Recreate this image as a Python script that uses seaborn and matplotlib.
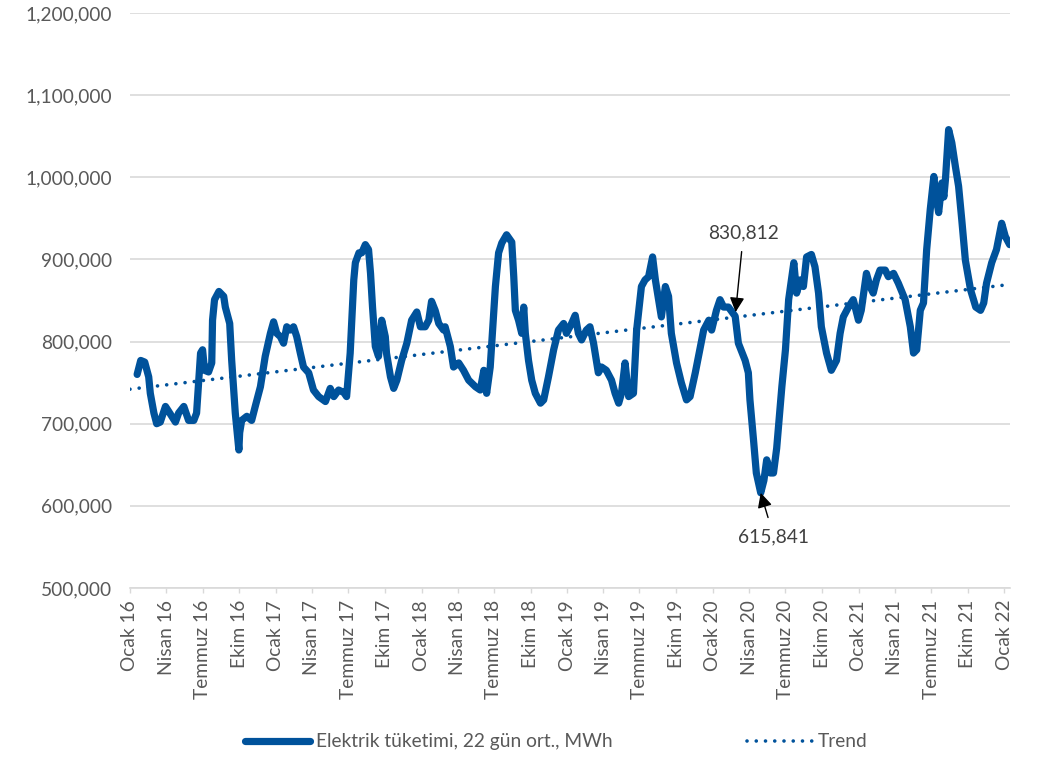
import numpy as np
import pandas as pd
import matplotlib
matplotlib.use("Agg")
import matplotlib.pyplot as plt
from matplotlib.lines import Line2D
import seaborn as sns

# 22-day rolling average of electricity consumption (MWh)
dates = [
    "2016-01-19", "2016-01-28", "2016-02-07", "2016-02-17", "2016-02-21", "2016-03-01",
    "2016-03-08", "2016-03-17", "2016-03-30", "2016-04-07", "2016-04-24", "2016-05-02",
    "2016-05-15", "2016-05-27", "2016-06-09", "2016-06-16", "2016-06-26", "2016-07-01",
    "2016-07-06", "2016-07-16", "2016-07-24", "2016-07-26", "2016-07-31", "2016-08-11",
    "2016-08-23", "2016-08-27", "2016-09-07", "2016-09-12", "2016-09-21", "2016-09-30",
    "2016-10-02", "2016-10-07", "2016-10-20", "2016-11-01", "2016-11-10", "2016-11-23",
    "2016-12-05", "2016-12-18", "2016-12-26", "2017-01-03", "2017-01-12", "2017-01-20",
    "2017-01-28", "2017-02-06", "2017-02-14", "2017-02-22", "2017-03-03", "2017-03-11",
    "2017-03-24", "2017-04-05", "2017-04-18", "2017-05-05", "2017-05-17", "2017-05-26",
    "2017-06-07", "2017-06-20", "2017-06-27", "2017-07-06", "2017-07-15", "2017-07-19",
    "2017-07-28", "2017-08-04", "2017-08-13", "2017-08-21", "2017-08-26", "2017-08-31",
    "2017-09-07", "2017-09-15", "2017-09-23", "2017-10-02", "2017-10-05", "2017-10-15",
    "2017-10-23", "2017-10-31", "2017-11-12", "2017-11-25", "2017-12-07", "2017-12-20",
    "2017-12-29", "2018-01-10", "2018-01-19", "2018-01-26", "2018-02-04", "2018-02-13",
    "2018-02-25", "2018-03-01", "2018-03-14", "2018-03-22", "2018-04-04", "2018-04-16",
    "2018-04-29", "2018-05-16", "2018-05-28", "2018-06-06", "2018-06-13", "2018-06-22",
    "2018-07-05", "2018-07-13", "2018-07-21", "2018-08-02", "2018-08-15", "2018-08-20",
    "2018-08-24", "2018-09-01", "2018-09-09", "2018-09-14", "2018-09-18", "2018-09-26",
    "2018-10-04", "2018-10-13", "2018-10-26", "2018-11-03", "2018-11-15", "2018-11-28",
    "2018-12-10", "2018-12-23", "2018-12-30", "2019-01-12", "2019-01-21", "2019-01-29",
    "2019-02-06", "2019-02-18", "2019-02-27", "2019-03-08", "2019-03-15", "2019-03-20",
    "2019-03-28", "2019-04-09", "2019-04-22", "2019-05-01", "2019-05-10", "2019-05-17",
    "2019-05-26", "2019-06-04", "2019-06-16", "2019-06-24", "2019-07-06", "2019-07-15",
    "2019-07-24", "2019-07-29", "2019-08-03", "2019-08-10", "2019-08-18", "2019-08-25",
    "2019-09-04", "2019-09-12", "2019-09-19", "2019-10-02", "2019-10-14", "2019-10-27",
    "2019-11-05", "2019-11-18", "2019-12-01", "2019-12-09", "2019-12-22", "2019-12-29",
    "2020-01-10", "2020-01-19", "2020-01-28", "2020-02-09", "2020-02-26", "2020-03-05",
    "2020-03-22", "2020-03-30", "2020-04-03", "2020-04-12", "2020-04-19", "2020-04-30",
    "2020-05-08", "2020-05-15", "2020-05-24", "2020-06-01", "2020-06-09", "2020-06-22",
    "2020-07-01", "2020-07-09", "2020-07-22", "2020-07-29", "2020-08-07", "2020-08-15",
    "2020-08-23", "2020-09-04", "2020-09-13", "2020-09-22", "2020-09-29", "2020-10-12",
    "2020-10-24", "2020-11-06", "2020-11-15", "2020-11-23", "2020-12-06", "2020-12-18",
    "2020-12-31", "2021-01-07", "2021-01-20", "2021-01-29", "2021-02-06", "2021-02-14",
    "2021-02-23", "2021-03-08", "2021-03-16", "2021-03-29", "2021-04-10", "2021-04-27",
    "2021-05-10", "2021-05-18", "2021-05-26", "2021-06-04", "2021-06-12", "2021-06-20",
    "2021-06-29", "2021-07-08", "2021-07-12", "2021-07-20", "2021-07-28", "2021-08-02",
    "2021-08-06", "2021-08-14", "2021-08-22", "2021-08-31", "2021-09-08", "2021-09-16",
    "2021-09-25", "2021-10-08", "2021-10-21", "2021-11-02", "2021-11-10", "2021-11-17",
    "2021-11-30", "2021-12-12", "2021-12-25", "2022-01-03", "2022-01-14",
]
consumption = [
    760000, 777000, 775000, 757000, 737000, 713000,
    700000, 702000, 721000, 715000, 702000, 713000,
    721000, 704000, 704000, 713000, 786000, 790000,
    765000, 763000, 774000, 826000, 851000, 861000,
    855000, 842000, 822000, 777000, 713000, 668000,
    689000, 704000, 709000, 704000, 721000, 745000,
    782000, 810000, 824000, 810000, 806000, 798000,
    818000, 814000, 818000, 806000, 786000, 769000,
    762000, 741000, 733000, 727000, 743000, 733000,
    741000, 738000, 733000, 786000, 875000, 896000,
    908000, 908000, 918000, 912000, 883000, 842000,
    794000, 782000, 826000, 806000, 786000, 757000,
    743000, 753000, 777000, 798000, 826000, 836000,
    818000, 818000, 826000, 849000, 838000, 822000,
    814000, 818000, 794000, 769000, 774000, 765000,
    753000, 745000, 741000, 765000, 737000, 769000,
    867000, 908000, 920000, 930000, 921000, 879000,
    838000, 826000, 810000, 842000, 810000, 777000,
    753000, 737000, 725000, 729000, 757000, 790000,
    814000, 822000, 810000, 822000, 832000, 810000,
    802000, 814000, 818000, 798000, 777000, 762000,
    769000, 765000, 753000, 737000, 725000, 737000,
    774000, 733000, 737000, 814000, 867000, 875000,
    879000, 891000, 903000, 875000, 851000, 830000,
    867000, 855000, 810000, 774000, 750000, 729000,
    733000, 762000, 794000, 814000, 826000, 814000,
    838000, 851000, 842000, 842000, 830812, 798000,
    777000, 762000, 729000, 680000, 640000, 615841,
    631000, 656000, 640000, 640000, 670000, 745000,
    790000, 851000, 896000, 859000, 875000, 867000,
    903000, 906000, 891000, 859000, 818000, 786000,
    765000, 777000, 810000, 830000, 842000, 851000,
    826000, 838000, 883000, 867000, 859000, 875000,
    887000, 887000, 879000, 883000, 871000, 851000,
    818000, 786000, 790000, 838000, 847000, 912000,
    961000, 1001000, 981000, 957000, 993000, 976000,
    997000, 1058000, 1042000, 1013000, 989000, 948000,
    899000, 863000, 842000, 838000, 847000, 871000,
    896000, 912000, 944000, 928000, 918000,
]

# Linear trend line end points
trend_dates = ["2016-01-01", "2022-01-14"]
trend_values = [742000, 869500]

# Quarterly axis ticks
tick_dates = pd.date_range("2016-01-01", "2022-01-01", freq="QS")
tick_labels = [
    "Ocak 16", "Nisan 16", "Temmuz 16", "Ekim 16",
    "Ocak 17", "Nisan 17", "Temmuz 17", "Ekim 17",
    "Ocak 18", "Nisan 18", "Temmuz 18", "Ekim 18",
    "Ocak 19", "Nisan 19", "Temmuz 19", "Ekim 19",
    "Ocak 20", "Nisan 20", "Temmuz 20", "Ekim 20",
    "Ocak 21", "Nisan 21", "Temmuz 21", "Ekim 21",
    "Ocak 22",
]
y_ticks = [500000, 600000, 700000, 800000, 900000, 1000000, 1100000, 1200000]

series_label = "Elektrik tüketimi, 22 gün ort., MWh"
trend_label = "Trend"

sns.set_theme(style="white")
plt.rcParams["font.family"] = ["Lato", "DejaVu Sans"]

BLUE = "#00529b"
GRID = "#d9d9d9"
TEXT = "#595959"
FS = 13.8
LINE_W = 5.2
DOT_W = 2.6

df = pd.DataFrame({"Tarih": pd.to_datetime(dates), "MWh": consumption})
trend_df = pd.DataFrame({"Tarih": pd.to_datetime(trend_dates), "MWh": trend_values})

fig = plt.figure(figsize=(10.38, 7.59), dpi=100)
ax = fig.add_axes([0.1252, 0.2253, 0.8475, 0.7576])

dot_style = (0, (0.01, 2.55))
sns.lineplot(data=trend_df, x="Tarih", y="MWh", ax=ax, color=BLUE, lw=DOT_W,
             linestyle=dot_style, dash_capstyle="round", zorder=2)
sns.lineplot(data=df, x="Tarih", y="MWh", ax=ax, color=BLUE, lw=LINE_W,
             solid_capstyle="round", solid_joinstyle="round", zorder=3)

ax.set_xlim(pd.Timestamp("2016-01-01"), pd.Timestamp("2022-01-14"))
ax.set_ylim(500000, 1200000)
ax.set_xticks(tick_dates)
ax.set_xticklabels(tick_labels, rotation=90, fontsize=FS, color=TEXT)
ax.set_yticks(y_ticks)
ax.set_yticklabels([f"{v:,}" for v in y_ticks], fontsize=FS, color=TEXT)
ax.set_xlabel("")
ax.set_ylabel("")

ax.grid(axis="y", color=GRID, lw=1.2)
ax.grid(axis="x", visible=False)
ax.set_axisbelow(True)
for side in ("left", "top", "right"):
    ax.spines[side].set_visible(False)
ax.spines["bottom"].set_color(GRID)
ax.spines["bottom"].set_linewidth(1.2)
ax.tick_params(axis="x", length=3.6, width=1, color=GRID, pad=5, bottom=True)
ax.tick_params(axis="y", length=0, pad=13)

# Annotated values
i_pre = dates.index("2020-02-26")
i_min = int(np.argmin(consumption))
arrow = dict(arrowstyle="-|>", color="black", lw=1.0, mutation_scale=22)
ax.annotate(f"{consumption[i_pre]:,}", xy=(df["Tarih"][i_pre], consumption[i_pre]),
            xytext=(6, 60), textcoords="offset points", ha="center", va="center",
            fontsize=FS, color="#404040",
            arrowprops={**arrow, "shrinkA": 5, "shrinkB": 3}, zorder=5)
ax.annotate(f"{consumption[i_min]:,}", xy=(df["Tarih"][i_min], consumption[i_min]),
            xytext=(9.5, -32), textcoords="offset points", ha="center", va="center",
            fontsize=FS, color="#404040",
            arrowprops={**arrow, "shrinkA": 6, "shrinkB": 0}, zorder=5)

handles = [
    Line2D([], [], color=BLUE, lw=LINE_W, solid_capstyle="round"),
    Line2D([], [], color=BLUE, lw=DOT_W, linestyle=dot_style, dash_capstyle="round"),
]
leg = fig.legend(handles, [series_label, trend_label], loc="center",
                 bbox_to_anchor=(0.536, 0.0224), ncol=2, frameon=False,
                 fontsize=FS, handlelength=3.4, handletextpad=0.3, columnspacing=7.0)
for t in leg.get_texts():
    t.set_color(TEXT)

fig.savefig("out.png", dpi=100)
